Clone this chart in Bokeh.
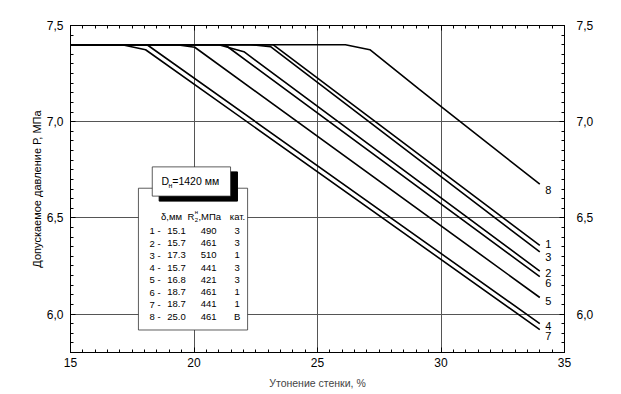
import math
from bokeh.plotting import figure
from bokeh.models import (Range1d, LinearAxis, SingleIntervalTicker,
                          CustomJSTickFormatter, Title)
from bokeh.core.properties import value
from bokeh.embed import file_html
from bokeh.resources import INLINE

FONT = "Liberation Sans"

# ---- data ----
series_names = ["1", "2", "3", "4", "5", "6", "7", "8"]
line1_x = [15, 23.2, 34];                    line1_y = [7.4, 7.4, 6.357]
line2_x = [15, 21.0, 22.02, 34];             line2_y = [7.4, 7.4, 7.364, 6.223]
line3_x = [15, 22.29, 23.1, 34];             line3_y = [7.4, 7.4, 7.39, 6.323]
line4_x = [15, 18.1, 34];                    line4_y = [7.4, 7.4, 5.95]
line5_x = [15, 19.3, 20.03, 34];             line5_y = [7.4, 7.4, 7.387, 6.086]
line6_x = [15, 21.25, 34];                   line6_y = [7.4, 7.4, 6.194]
line7_x = [15, 17.09, 18.04, 34];            line7_y = [7.4, 7.4, 7.374, 5.919]
line8_x = [15, 26.13, 27.12, 29.1, 30.11, 34]
line8_y = [7.4, 7.4, 7.374, 7.17, 7.068, 6.675]
label_y = [6.362, 6.215, 6.295, 5.940, 6.069, 6.160, 5.887, 6.644]

table_num = [1, 2, 3, 4, 5, 6, 7, 8]
table_delta = ["15.1", "15.7", "17.3", "15.7", "16.8", "18.7", "18.7", "25.0"]
table_r = ["490", "461", "510", "441", "421", "461", "441", "461"]
table_cat = ["3", "3", "1", "3", "3", "1", "1", "В"]

x_ticks_interval = 5
y_ticks_interval = 0.5

lines_x = [line1_x, line2_x, line3_x, line4_x, line5_x, line6_x, line7_x, line8_x]
lines_y = [line1_y, line2_y, line3_y, line4_y, line5_y, line6_y, line7_y, line8_y]

p = figure(width=614, height=392, x_range=Range1d(15, 35), y_range=Range1d(5.8, 7.5),
           output_backend="svg", toolbar_location=None,
           min_border_left=70, min_border_right=50, min_border_top=25, min_border_bottom=40)
p.background_fill_color = "white"
p.border_fill_color = "white"
p.outline_line_color = "black"
p.outline_line_width = 1

fmt = CustomJSTickFormatter(code="return tick.toFixed(1).replace('.', ',');")


def style_axis(ax, ticker, labels=True, standoff=6):
    ax.ticker = ticker
    ax.major_tick_in = 5
    ax.major_tick_out = 0
    ax.minor_tick_in = 3
    ax.minor_tick_out = 0
    ax.axis_line_color = "black"
    ax.major_tick_line_color = "black"
    ax.minor_tick_line_color = "black"
    ax.major_label_text_font = FONT
    ax.major_label_text_font_size = "12px"
    ax.major_label_text_color = "black" if labels else None
    ax.major_label_standoff = standoff


xt = SingleIntervalTicker(interval=x_ticks_interval, num_minor_ticks=10)
yt = SingleIntervalTicker(interval=y_ticks_interval, num_minor_ticks=10)

xax = p.xaxis[0]
style_axis(xax, xt, standoff=5)
xax.axis_label = "Утонение стенки, %"
xax.axis_label_text_font = FONT
xax.axis_label_text_font_size = "10.5px"
xax.axis_label_text_font_style = "normal"
xax.axis_label_standoff = 7

yax = p.yaxis[0]
style_axis(yax, yt, standoff=7)
yax.formatter = fmt

rax = LinearAxis()
style_axis(rax, SingleIntervalTicker(interval=y_ticks_interval, num_minor_ticks=10), standoff=12)
rax.formatter = fmt
p.add_layout(rax, "right")

tax = LinearAxis()
style_axis(tax, SingleIntervalTicker(interval=x_ticks_interval, num_minor_ticks=10), labels=False, standoff=0)
tax.major_label_text_font_size = "0px"
p.add_layout(tax, "above")

p.xgrid.ticker = xt
p.ygrid.ticker = yt
p.xgrid.grid_line_color = "#555555"
p.xgrid.grid_line_width = 1
p.ygrid.grid_line_color = "#555555"
p.ygrid.grid_line_width = 1

# ---- y axis title (as a left-side title, shifted up like the reference) ----
p.add_layout(Title(text="Допускаемое давление Р, МПа", align="center", offset=21,
                   standoff=2, text_font=FONT, text_font_size="11px",
                   text_font_style="normal", text_color="black"), "left")

# ---- inset legend table ----
p.quad(left=[17.75], right=[22.17], bottom=[5.917], top=[6.654],
       fill_color="white", line_color="#333333", line_width=0.8)
p.quad(left=[18.59], right=[21.76], bottom=[6.587], top=[6.739],
       fill_color="black", line_color="black")
p.quad(left=[18.31], right=[21.48], bottom=[6.613], top=[6.765],
       fill_color="white", line_color="#333333", line_width=0.8)

tf = value(FONT)
p.text(x=[18.68], y=[6.690], text=["D"], text_font=tf, text_font_size="10.5px",
       text_baseline="middle", text_align="left")
p.text(x=[18.97], y=[6.668], text=["н"], text_font=tf, text_font_size="7px",
       text_baseline="middle", text_align="left")
p.text(x=[19.12], y=[6.690], text=["=1420 мм"], text_font=tf, text_font_size="10.5px",
       text_baseline="middle", text_align="left")

hy = 6.509
p.text(x=[19.09], y=[hy], text=["δ,мм"], text_font=tf, text_font_size="9.5px",
       text_baseline="middle", text_align="center")
p.text(x=[19.74], y=[hy], text=["R"], text_font=tf, text_font_size="9.5px",
       text_baseline="middle", text_align="left")
p.text(x=[20.03], y=[hy - 0.019], text=["2"], text_font=tf, text_font_size="6px",
       text_baseline="middle", text_align="left")
p.text(x=[20.03], y=[hy + 0.022], text=["н"], text_font=tf, text_font_size="6px",
       text_baseline="middle", text_align="left")
p.text(x=[20.18], y=[hy], text=[",МПа"], text_font=tf, text_font_size="9.5px",
       text_baseline="middle", text_align="left")
p.text(x=[21.76], y=[hy], text=["кат."], text_font=tf, text_font_size="9.5px",
       text_baseline="middle", text_align="center")

row_y = [6.433 - 0.0638 * i for i in range(len(table_num))]
p.text(x=[18.20] * len(row_y), y=row_y, text=[f"{n} -" for n in table_num], text_font=tf,
       text_font_size="9.5px", text_baseline="middle", text_align="left")
p.text(x=[19.29] * len(row_y), y=row_y, text=table_delta, text_font=tf,
       text_font_size="9.5px", text_baseline="middle", text_align="center")
p.text(x=[20.59] * len(row_y), y=row_y, text=table_r, text_font=tf,
       text_font_size="9.5px", text_baseline="middle", text_align="center")
p.text(x=[21.75] * len(row_y), y=row_y, text=table_cat, text_font=tf,
       text_font_size="9.5px", text_baseline="middle", text_align="center")

# ---- curves ----
for xs, ys in zip(lines_x, lines_y):
    p.line(xs, ys, line_color="black", line_width=1.6)

p.text(x=[34.22] * len(series_names), y=label_y, text=series_names, text_font=tf,
       text_font_size="11px", text_baseline="middle", text_align="left")

open("out.html", "w").write(file_html(p, INLINE))
